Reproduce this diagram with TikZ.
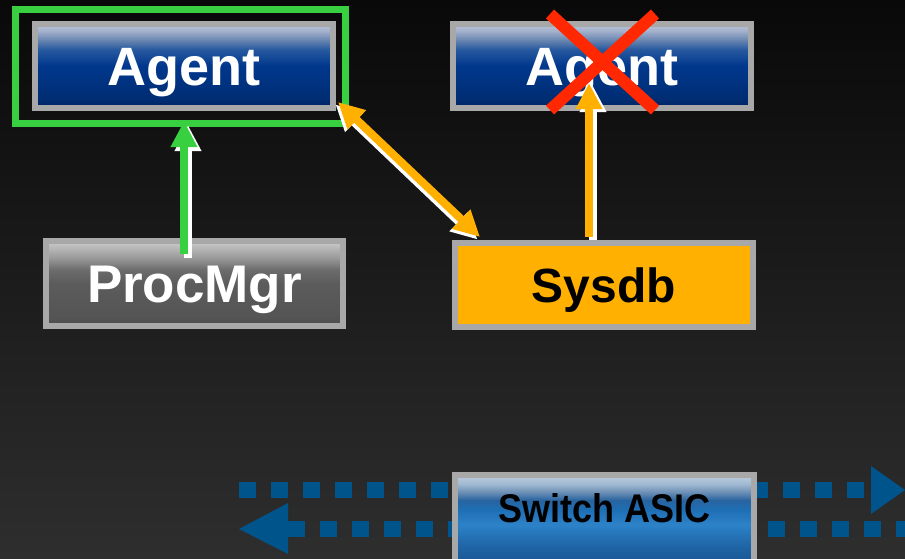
\documentclass[tikz,border=0pt]{standalone}
\usepackage{fontspec}
\setmainfont{Liberation Sans}
\usetikzlibrary{arrows.meta,calc}
\definecolor{boxgray}{RGB}{168,168,168}
\definecolor{hlgreen}{RGB}{56,208,64}
\definecolor{sysorange}{RGB}{255,176,0}
\definecolor{crossred}{RGB}{255,40,0}
\definecolor{asicblue}{RGB}{0,84,140}
\pgfdeclareverticalshading{bgsh}{100bp}{rgb(0bp)=(0.18,0.18,0.18); rgb(25bp)=(0.18,0.18,0.18); rgb(75bp)=(0.035,0.035,0.035); rgb(100bp)=(0.035,0.035,0.035)}
\pgfdeclareverticalshading{agentsh}{100bp}{rgb(0bp)=(0,0.137,0.373); rgb(25bp)=(0,0.137,0.373); rgb(30bp)=(0,0.176,0.45); rgb(50bp)=(0,0.216,0.55); rgb(60bp)=(0.157,0.353,0.627); rgb(65bp)=(0.392,0.51,0.686); rgb(71bp)=(0.647,0.698,0.804); rgb(75bp)=(0.725,0.765,0.843); rgb(100bp)=(0.725,0.765,0.843)}
\pgfdeclareverticalshading{procsh}{100bp}{rgb(0bp)=(0.29,0.29,0.29); rgb(25bp)=(0.29,0.29,0.29); rgb(30bp)=(0.33,0.33,0.33); rgb(50bp)=(0.36,0.36,0.36); rgb(58bp)=(0.42,0.42,0.42); rgb(65bp)=(0.6,0.6,0.6); rgb(75bp)=(0.8,0.8,0.8); rgb(100bp)=(0.8,0.8,0.8)}
\pgfdeclareverticalshading{asicsh}{100bp}{rgb(0bp)=(0.1,0.333,0.57); rgb(25bp)=(0.1,0.333,0.57); rgb(35bp)=(0.118,0.392,0.647); rgb(47.5bp)=(0.176,0.51,0.784); rgb(56bp)=(0.118,0.431,0.706); rgb(61bp)=(0.157,0.392,0.627); rgb(66bp)=(0.45,0.58,0.72); rgb(70bp)=(0.627,0.725,0.824); rgb(75bp)=(0.745,0.804,0.863); rgb(100bp)=(0.745,0.804,0.863)}
\tikzset{
  boxbase/.style={draw=boxgray, line width=6pt, inner sep=0pt, minimum width=298pt, minimum height=84pt},
  agentbox/.style={boxbase, shading=agentsh, text=white, font=\fontsize{54}{60}\selectfont\bfseries, text height=39pt, text depth=0pt},
  procbox/.style={boxbase, minimum width=297pt, minimum height=85pt, shading=procsh, text=white, font=\fontsize{53}{60}\selectfont\bfseries, text height=38pt, text depth=0pt},
  sysbox/.style={boxbase, fill=sysorange, text=black, font=\fontsize{48}{56}\selectfont\bfseries, text height=35pt, text depth=0pt},
  asicbox/.style={boxbase, minimum width=299pt, minimum height=90pt, shading=asicsh, text=black, font=\fontsize{40}{48}\selectfont\bfseries, text height=29pt, text depth=25pt},
  fatarrow/.style={line width=8pt, -{Triangle[length=26pt,width=25pt]}},
  fatdouble/.style={line width=8pt, {Triangle[length=26pt,width=25pt]}-{Triangle[length=26pt,width=25pt]}},
  whiteshadow/.style={draw=white, transform canvas={shift={#1}}},
  dotrow/.style={draw=asicblue, line width=16pt, dash pattern=on 17pt off 15pt},
  crossline/.style={draw=crossred, line width=12pt}
}
\begin{document}
\begin{tikzpicture}[x=1pt,y=-1pt]
\useasboundingbox (0,0) rectangle (905,558);
\shade[shading=bgsh] (0,0) rectangle (905,558);
\clip (0,0) rectangle (905,558);

% dotted data-path arrows behind the ASIC
\coordinate (upstart) at (239,490);
\coordinate (upend) at (864,490);
\coordinate (uptip) at (905,490);
\coordinate (lowstart) at (905,529);
\coordinate (lowend) at (288,529);
\coordinate (lowtip) at (239,529);
\draw[dotrow] (upstart) -- (upend);
\fill[asicblue] ($(uptip)+(-34,-24)$) -- (uptip) -- ($(uptip)+(-34,24)$) -- cycle;
\draw[dotrow] (lowend) -- (lowstart);
\fill[asicblue] (lowtip) -- ($(lowtip)+(49,-26)$) -- ($(lowtip)+(49,25)$) -- cycle;

% boxes
\node[agentbox] (agent1) at (184,66) {Agent};
\node[agentbox] (agent2) at (602,66) {Agent};
\node[procbox] (procmgr) at (194.5,283.5) {ProcMgr};
\node[sysbox] (sysdb) at (604,285) {Sysdb};
\node[asicbox] (asic) at (604.5,520) {\scalebox{0.9}[1]{Switch ASIC}};

% green highlight
\node[draw=hlgreen, line width=7pt, inner sep=0pt, minimum width=330pt, minimum height=114pt] (hl) at (180.5,66.5) {};

% green arrow ProcMgr -> Agent
\coordinate (gstart) at ($(agent1.south |- procmgr.north)+(0,16)$);
\coordinate (gtip) at ($(agent1.south)+(0,10)$);
\draw[fatarrow, whiteshadow={(4pt,-4pt)}] (gstart) -- (gtip);
\draw[fatarrow, draw=hlgreen, fill=hlgreen] (gstart) -- (gtip);

% orange double arrow Agent <-> Sysdb
\coordinate (dA) at ($(agent1.south east)+(2,-9)$);
\coordinate (dB) at ($(sysdb.north west)+(28,-3)$);
\draw[fatdouble, whiteshadow={(-2.5pt,-2.5pt)}] (dA) -- (dB);
\draw[fatdouble, draw=sysorange, fill=sysorange] (dA) -- (dB);

% orange arrow Sysdb -> crashed Agent
\coordinate (oS) at ($(sysdb.north)+(-15,-3)$);
\coordinate (oT) at ($(agent2.south)+(-13,-28)$);
\draw[fatarrow, whiteshadow={(4pt,-3pt)}] (oS) -- (oT);
\draw[fatarrow, draw=sysorange, fill=sysorange] (oS) -- (oT);

% red cross
\draw[crossline] ($(agent2.center)+(-52,-52)$) -- ($(agent2.center)+(53,44)$);
\draw[crossline] ($(agent2.center)+(53,-52)$) -- ($(agent2.center)+(-52,44)$);
\end{tikzpicture}
\end{document}
